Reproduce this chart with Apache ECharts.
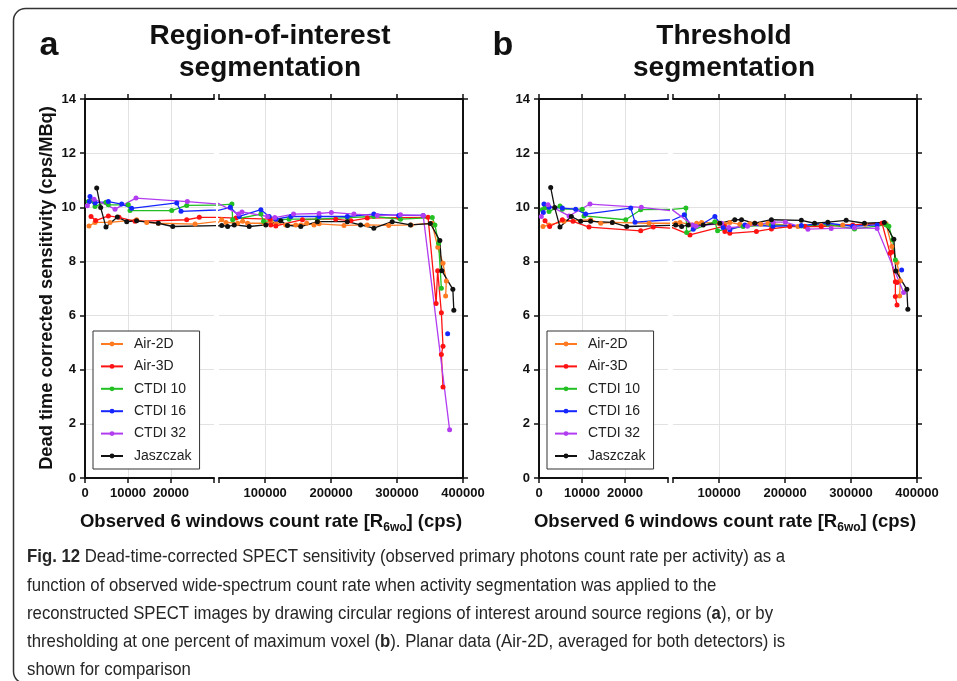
<!DOCTYPE html>
<html>
<head>
<meta charset="utf-8">
<script src="https://cdn.jsdelivr.net/npm/echarts@6/dist/echarts.min.js"></script>
<style>
  html, body { margin: 0; padding: 0; background: #fff; }
  #chart { width: 957px; height: 681px; }
</style>
</head>
<body>
<div id="chart"></div>
<script>
// ---- Series identity ----
const seriesNames = ['Air-2D', 'Air-3D', 'CTDI 10', 'CTDI 16', 'CTDI 32', 'Jaszczak'];
const seriesColors = ['#ff7a21', '#ff1212', '#22c022', '#1626ff', '#b23cf0', '#111111'];

// ---- Observed 6-window count rate (cps), shared by both segmentation methods ----
const air2dRate = [930, 2330, 5820, 12000, 14350, 17050, 25600, 34100, 40600, 58300, 65800, 73400, 98500, 108600, 116200, 131300, 146400, 154000, 163000, 174100, 181700, 219500, 254800, 287400, 321400, 353100, 361800, 369700, 374700, 373700];
const air3dRate = [1400, 2480, 5430, 7910, 11630, 23650, 26580, 55700, 107600, 108600, 116200, 156500, 179200, 207000, 230000, 254800, 302600, 347000, 359200, 361600, 367200, 369700, 367200, 369700];
const ctdi10Rate = [770, 1400, 2330, 4880, 5430, 10070, 10470, 20170, 23650, 49600, 50700, 93500, 97600, 136300, 179200, 224600, 264800, 305200, 353400, 357400, 363000, 367200];
const ctdi16Rate = [1000, 1160, 2330, 5430, 8530, 10850, 21330, 22330, 47100, 60700, 93500, 106000, 116200, 139000, 181700, 224600, 264800, 302600, 339600, 360000, 376700];
const ctdi32Rate = [540, 2100, 6980, 11860, 23800, 59800, 64800, 103600, 114700, 143000, 181700, 200400, 234600, 269900, 305200, 339600, 379700];
const jaszczakRate = [2720, 3650, 4880, 7520, 9700, 12000, 17050, 20400, 34100, 43100, 53100, 75800, 101000, 123700, 133900, 154000, 179200, 224600, 244700, 264800, 292600, 320300, 350500, 364900, 367900, 384600, 386100];

// ---- Dead-time corrected sensitivity (cps/MBq), region-of-interest segmentation ----
const air2dRoi = [9.31, 9.44, 9.44, 9.54, 9.44, 9.41, 9.38, 9.54, 9.44, 9.41, 9.48, 9.41, 9.41, 9.48, 9.41, 9.35, 9.35, 9.35, 9.41, 9.35, 9.39, 9.33, 9.35, 9.33, 9.35, 9.41, 8.52, 7.93, 7.28, 6.72];
const air3dRoi = [9.66, 9.51, 9.68, 9.63, 9.48, 9.54, 9.63, 9.60, 9.56, 9.35, 9.31, 9.54, 9.56, 9.56, 9.50, 9.60, 9.62, 9.63, 6.45, 7.66, 6.10, 4.87, 4.56, 3.36];
const ctdi10Roi = [10.21, 10.25, 10.03, 10.19, 10.09, 10.09, 9.88, 9.88, 10.07, 10.12, 9.54, 9.75, 9.48, 9.56, 9.56, 9.62, 9.66, 9.56, 9.62, 9.35, 8.67, 7.01];
const ctdi16Roi = [10.21, 10.40, 10.16, 10.21, 10.12, 9.96, 10.16, 9.85, 10.00, 9.66, 9.91, 9.66, 9.56, 9.66, 9.66, 9.66, 9.75, 9.70, 9.70, null, 5.33];
const ctdi32Roi = [10.06, 10.30, 9.93, 10.34, 10.21, 9.75, 9.83, 9.66, 9.62, 9.75, 9.77, 9.81, 9.75, 9.70, 9.72, 9.70, 1.78];
const jaszczakRoi = [10.71, 9.99, 9.27, 9.64, 9.47, 9.50, 9.41, 9.29, 9.33, 9.29, 9.35, 9.29, 9.35, 9.50, 9.33, 9.29, 9.47, 9.47, 9.35, 9.23, 9.47, 9.35, 9.40, 8.77, 7.66, 6.97, 6.20];

// ---- Dead-time corrected sensitivity (cps/MBq), threshold segmentation ----
const air2dThr = [9.29, 9.35, 9.48, 9.54, 9.41, 9.44, 9.41, 9.41, 9.44, 9.35, 9.41, 9.44, 9.41, 9.37, 9.44, 9.37, 9.39, 9.41, 9.37, 9.41, 9.39, 9.29, 9.33, 9.35, 9.37, 9.39, 8.55, 7.96, 7.29, 6.72];
const air3dThr = [9.50, 9.29, 9.54, 9.48, 9.27, 9.13, 9.27, 8.98, 9.30, 9.11, 9.04, 9.11, 9.20, 9.29, 9.30, 9.29, 9.35, 9.41, 8.30, 8.35, 7.25, 7.22, 6.70, 6.39];
const ctdi10Thr = [9.91, 9.99, 9.84, 10.05, 9.93, 9.93, 9.68, 9.54, 9.91, 9.97, 9.07, 9.47, 9.13, 9.29, 9.35, 9.31, 9.37, 9.20, 9.35, 9.30, 8.80, 8.05];
const ctdi16Thr = [9.81, 10.12, 10.00, 9.97, 9.93, 9.75, 9.97, 9.45, 9.72, 9.19, 9.66, 9.25, 9.17, 9.35, 9.30, 9.33, 9.41, 9.30, 9.35, null, 7.68];
const ctdi32Thr = [9.66, 10.09, 9.68, 10.12, 10.00, 9.35, 9.30, 9.41, 9.25, 9.30, 9.45, 9.45, 9.19, 9.22, 9.24, 9.22, 6.85];
const jaszczakThr = [10.73, 9.99, 9.27, 9.66, 9.48, 9.48, 9.44, 9.29, 9.35, 9.29, 9.35, 9.35, 9.41, 9.54, 9.54, 9.41, 9.54, 9.52, 9.41, 9.45, 9.52, 9.41, 9.44, 8.82, 7.65, 6.97, 6.23];

// ---- Axis ranges ----
const lowRateRange = [0, 30000];       // left part of the broken x axis
const highRateRange = [30000, 400000]; // right part of the broken x axis
const sensRange = [0, 14];
const sensStep = 2;
const lowRateStep = 10000;

const rates = [air2dRate, air3dRate, ctdi10Rate, ctdi16Rate, ctdi32Rate, jaszczakRate];
const roiSens = [air2dRoi, air3dRoi, ctdi10Roi, ctdi16Roi, ctdi32Roi, jaszczakRoi];
const thrSens = [air2dThr, air3dThr, ctdi10Thr, ctdi16Thr, ctdi32Thr, jaszczakThr];

const captionLines = [
  '{b|Fig. 12} Dead-time-corrected SPECT sensitivity (observed primary photons count rate per activity) as a',
  'function of observed wide-spectrum count rate when activity segmentation was applied to the',
  'reconstructed SPECT images by drawing circular regions of interest around source regions ({b|a}), or by',
  'thresholding at one percent of maximum voxel ({b|b}). Planar data (Air-2D, averaged for both detectors) is',
  'shown for comparison'
];

const FONT = '"Liberation Sans", Arial, Helvetica, sans-serif';
const INK = '#111';

const panels = [
  { letter: 'a', title: 'Region-of-interest\nsegmentation', sens: roiSens, lowLeft: 85, highLeft: 219, cx: 270, yTitle: true, legendLeft: 93 },
  { letter: 'b', title: 'Threshold\nsegmentation', sens: thrSens, lowLeft: 539, highLeft: 673, cx: 724, yTitle: false, legendLeft: 547 }
];
const PLOT_TOP = 99, PLOT_H = 379, LOW_W = 129, HIGH_W = 244;

const grid = [], xAxis = [], yAxis = [], series = [], legend = [];

function rateLabel(v) {
  return v === lowRateRange[1] ? '' : String(v);
}

function makeXAxis(gi, isLow, position) {
  const bottom = position === 'bottom';
  const ax = {
    type: 'value', gridIndex: gi, position: position,
    min: isLow ? lowRateRange[0] : highRateRange[0],
    max: isLow ? lowRateRange[1] : highRateRange[1],
    axisLine: { show: true, onZero: false, lineStyle: { color: INK, width: 2 } },
    axisTick: { show: true, length: 5, lineStyle: { color: INK, width: 1.5 } },
    axisLabel: bottom ? { show: true, margin: 9, color: INK, fontFamily: FONT, fontSize: 13, fontWeight: 'bold', formatter: rateLabel } : { show: false },
    splitLine: bottom ? { show: true, showMinLine: false, showMaxLine: false, lineStyle: { color: '#e2e2e2', width: 1 } } : { show: false }
  };
  if (isLow) ax.interval = lowRateStep; else ax.splitNumber = 4;
  return ax;
}

function makeYAxis(gi, isLow) {
  return {
    type: 'value', gridIndex: gi, position: isLow ? 'left' : 'right',
    min: sensRange[0], max: sensRange[1], interval: sensStep,
    axisLine: { show: true, onZero: false, lineStyle: { color: INK, width: 2 } },
    axisTick: { show: true, length: 5, lineStyle: { color: INK, width: 1.5 } },
    axisLabel: isLow ? { show: true, margin: 9, color: INK, fontFamily: FONT, fontSize: 13, fontWeight: 'bold' } : { show: false },
    splitLine: { show: true, showMinLine: false, showMaxLine: false, lineStyle: { color: '#e2e2e2', width: 1 } }
  };
}

// Split one curve at the axis break: each part keeps its neighbour across the
// break so the connecting segment runs into the gap and is clipped there.
function splitAtBreak(xs, ys) {
  const pts = xs.map((x, i) => [x, ys[i] == null ? '-' : ys[i]]);
  const first = pts.findIndex(p => p[0] > lowRateRange[1]);
  return { low: pts.slice(0, first + 1), high: pts.slice(Math.max(first - 1, 0)) };
}

const graphic = [
  { type: 'rect', silent: true, z: -10, shape: { x: 13.5, y: 8.5, width: 1000, height: 675, r: 12 }, style: { fill: 'none', stroke: '#333', lineWidth: 1.5 } }
];

panels.forEach((p, pi) => {
  const gLow = pi * 2, gHigh = pi * 2 + 1;
  grid.push({ left: p.lowLeft, top: PLOT_TOP, width: LOW_W, height: PLOT_H, containLabel: false });
  grid.push({ left: p.highLeft, top: PLOT_TOP, width: HIGH_W, height: PLOT_H, containLabel: false });
  [[gLow, true], [gHigh, false]].forEach(([gi, isLow]) => {
    xAxis.push(makeXAxis(gi, isLow, 'bottom'));
    xAxis.push(makeXAxis(gi, isLow, 'top'));
    yAxis.push(makeYAxis(gi, isLow));
  });

  seriesNames.forEach((name, k) => {
    const parts = splitAtBreak(rates[k], p.sens[k]);
    [[gLow, parts.low], [gHigh, parts.high]].forEach(([gi, data]) => {
      series.push({
        type: 'line', name: name, xAxisIndex: gi * 2, yAxisIndex: gi, data: data,
        symbol: 'circle', symbolSize: 5, showSymbol: true, clip: true, connectNulls: false,
        lineStyle: { color: seriesColors[k], width: 1.3 },
        itemStyle: { color: seriesColors[k] },
        emphasis: { disabled: true }, animation: false
      });
    });
  });

  legend.push({
    orient: 'vertical', left: p.legendLeft, top: 331, data: seriesNames,
    itemWidth: 22, itemHeight: 6, itemGap: 6.4, padding: [5, 8, 5, 7],
    backgroundColor: '#fff', borderColor: '#333', borderWidth: 1, borderRadius: 0,
    selectedMode: false,
    textStyle: { fontFamily: FONT, fontSize: 14, color: '#222', lineHeight: 16, padding: [0, 0, 0, 6] }
  });

  graphic.push({ type: 'text', x: p.lowLeft - 36, y: 46, style: { text: p.letter, font: 'bold 34px ' + FONT, fill: INK, align: 'center', verticalAlign: 'middle' } });
  graphic.push({ type: 'text', x: p.cx, y: 52, style: { text: p.title, font: 'bold 28px ' + FONT, lineHeight: 32, fill: INK, align: 'center', verticalAlign: 'middle' } });
  graphic.push({
    type: 'text', x: p.cx + 1, y: 522,
    style: {
      text: '{m|Observed 6 windows count rate [R}{s|6wo}{m|] (cps)}',
      align: 'center', verticalAlign: 'middle', fill: INK,
      rich: {
        m: { fontFamily: FONT, fontSize: 18.5, fontWeight: 'bold', lineHeight: 24, fill: INK },
        s: { fontFamily: FONT, fontSize: 12, fontWeight: 'bold', lineHeight: 12, verticalAlign: 'bottom', fill: INK }
      }
    }
  });
  if (p.yTitle) {
    graphic.push({ type: 'text', x: 47, y: 288, rotation: Math.PI / 2, style: { text: 'Dead time corrected sensitivity (cps/MBq)', font: 'bold 18.3px ' + FONT, fill: INK, align: 'center', verticalAlign: 'middle' } });
  }
});

// Caption set in a horizontally condensed sans face
graphic.push({
  type: 'text', x: 27, y: 543, scaleX: 0.882,
  style: {
    text: captionLines.join('\n'),
    fontFamily: FONT, fontSize: 19, lineHeight: 28.2, fill: '#262626', align: 'left', verticalAlign: 'top',
    rich: { b: { fontFamily: FONT, fontSize: 19, fontWeight: 'bold', lineHeight: 28.2, fill: '#262626' } }
  }
});

const chart = echarts.init(document.getElementById('chart'), null, { renderer: 'canvas', width: 957, height: 681 });
chart.setOption({
  backgroundColor: '#fff',
  animation: false,
  grid: grid, xAxis: xAxis, yAxis: yAxis, series: series, legend: legend, graphic: graphic
});
</script>
</body>
</html>
